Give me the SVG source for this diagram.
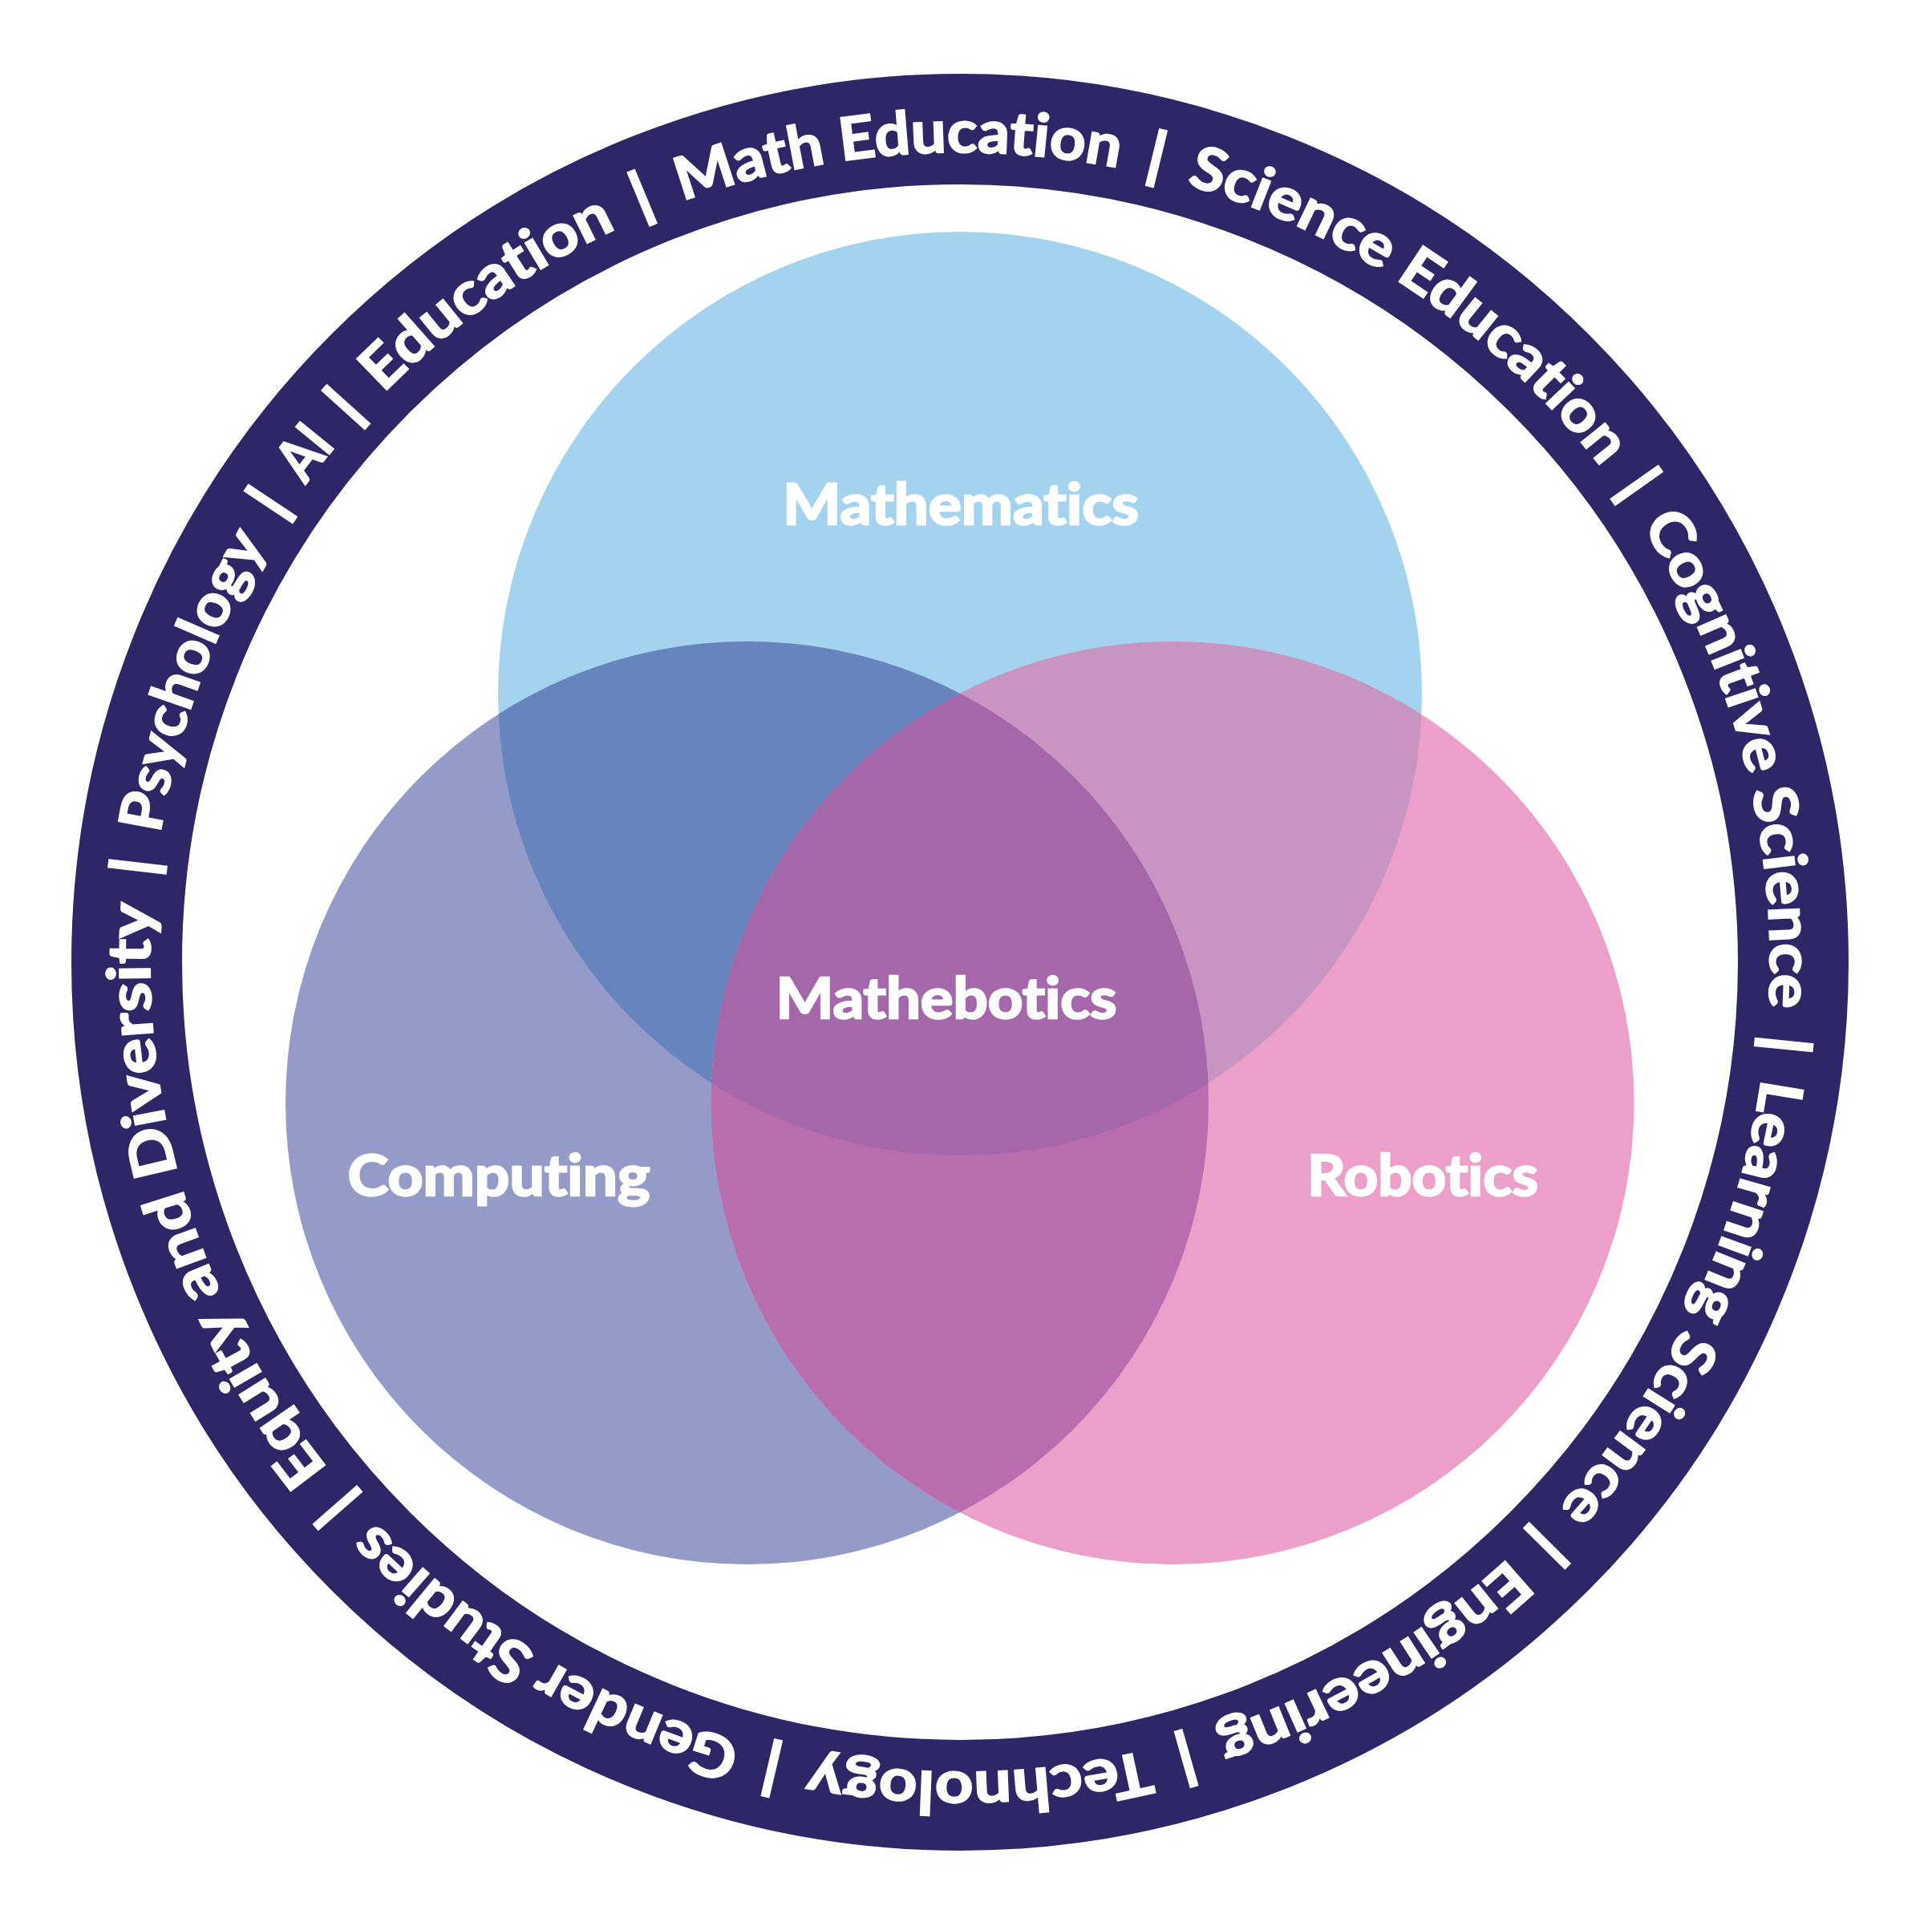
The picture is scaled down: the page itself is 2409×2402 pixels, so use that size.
<svg xmlns="http://www.w3.org/2000/svg" xmlns:xlink="http://www.w3.org/1999/xlink" width="2409" height="2402" viewBox="0 0 2409 2402">
<style>
.lbl{font-family:Lato,"Liberation Sans",sans-serif;font-weight:700;font-size:70px;fill:#ffffff;stroke:#ffffff;stroke-width:2.5;text-anchor:middle;font-variant-ligatures:none}
.rt{font-family:Lato,"Liberation Sans",sans-serif;font-weight:700;font-size:74px;fill:#ffffff;stroke:#ffffff;stroke-width:2;font-variant-ligatures:none}
.bar{font-family:Lato,"Liberation Sans",sans-serif;font-weight:700;font-size:74px;fill:#ffffff;stroke:#ffffff;stroke-width:4}
</style>
<defs>
<path id="ring" d="M2207 1200 A1010 1010 0 1 1 187 1200 A1010 1010 0 1 1 2207 1200 A1010 1010 0 1 1 187 1200 A1010 1010 0 1 1 2207 1200"/>
<clipPath id="cM"><circle cx="1197" cy="865" r="576"/></clipPath>
<clipPath id="cC"><circle cx="931.5" cy="1375.5" r="575.5"/></clipPath>
</defs>
<rect width="2409" height="2402" fill="#ffffff"/>
<g id="ring-band">
<circle cx="1197" cy="1200" r="1039" fill="none" stroke="#2d2767" stroke-width="138"/>
</g>
<g id="mathematics"><circle cx="1197" cy="865" r="576" fill="#a3d3ee"/></g>
<g id="computing"><circle cx="931.5" cy="1375.5" r="575.5" fill="#959bc8"/></g>
<g id="robotics"><circle cx="1462" cy="1375.5" r="575.5" fill="#eb9fc9"/></g>
<g id="overlaps">
<g clip-path="url(#cM)">
<circle cx="931.5" cy="1375.5" r="575.5" fill="#6685be"/>
<circle cx="1462" cy="1375.5" r="575.5" fill="#c895c3"/>
</g>
<g clip-path="url(#cC)">
<circle cx="1462" cy="1375.5" r="575.5" fill="#b86dae"/>
</g>
<g clip-path="url(#cM)"><g clip-path="url(#cC)">
<circle id="mathebotics" cx="1462" cy="1375.5" r="575.5" fill="#a467a9"/>
</g></g>
</g>
<g id="labels">
<text class="lbl" x="1198" y="654" textLength="444" lengthAdjust="spacingAndGlyphs">Mathematics</text>
<text class="lbl" x="1180" y="1270" textLength="425" lengthAdjust="spacingAndGlyphs">Mathebotics</text>
<text class="lbl" x="622" y="1491" textLength="377" lengthAdjust="spacingAndGlyphs">Computing</text>
<text class="lbl" x="1774" y="1491" textLength="288" lengthAdjust="spacingAndGlyphs">Robotics</text>
</g>
<g id="ring-text" text-anchor="middle">
<text class="bar"><textPath xlink:href="#ring" startOffset="4361.1">|</textPath></text>
<text class="bar"><textPath xlink:href="#ring" startOffset="5001.0">|</textPath></text>
<text class="bar"><textPath xlink:href="#ring" startOffset="5725.5">|</textPath></text>
<text class="bar"><textPath xlink:href="#ring" startOffset="6446.5">|</textPath></text>
<text class="bar"><textPath xlink:href="#ring" startOffset="7135.7">|</textPath></text>
<text class="bar"><textPath xlink:href="#ring" startOffset="7652.2">|</textPath></text>
<text class="bar"><textPath xlink:href="#ring" startOffset="8163.4">|</textPath></text>
<text class="bar"><textPath xlink:href="#ring" startOffset="8791.0">|</textPath></text>
<text class="bar"><textPath xlink:href="#ring" startOffset="3289.3">|</textPath></text>
<text class="bar"><textPath xlink:href="#ring" startOffset="3765.3">|</textPath></text>
<text class="bar"><textPath xlink:href="#ring" startOffset="3915.1">|</textPath></text>
<text class="rt"><textPath xlink:href="#ring" startOffset="4681.9" textLength="552" lengthAdjust="spacingAndGlyphs">Math Education</textPath></text>
<text class="rt"><textPath xlink:href="#ring" startOffset="5363.3" textLength="636" lengthAdjust="spacingAndGlyphs">Science Education</textPath></text>
<text class="rt"><textPath xlink:href="#ring" startOffset="6086.0" textLength="633" lengthAdjust="spacingAndGlyphs">Cognitive Science</textPath></text>
<text class="rt"><textPath xlink:href="#ring" startOffset="6791.1" textLength="601" lengthAdjust="spacingAndGlyphs">Learning Science</textPath></text>
<text class="rt"><textPath xlink:href="#ring" startOffset="7394.0" textLength="428" lengthAdjust="spacingAndGlyphs">Engineering</textPath></text>
<text class="rt"><textPath xlink:href="#ring" startOffset="7907.8" textLength="423" lengthAdjust="spacingAndGlyphs">Technology</textPath></text>
<text class="rt"><textPath xlink:href="#ring" startOffset="8477.2" textLength="539" lengthAdjust="spacingAndGlyphs">Gender Studies</textPath></text>
<text class="rt"><textPath xlink:href="#ring" startOffset="9213.2" textLength="756" lengthAdjust="spacingAndGlyphs">Equity and Diversity</textPath></text>
<text class="rt"><textPath xlink:href="#ring" startOffset="3527.3" textLength="388" lengthAdjust="spacingAndGlyphs">Psychology</textPath></text>
<text class="rt"><textPath xlink:href="#ring" startOffset="3840.2" textLength="62" lengthAdjust="spacingAndGlyphs">AI</textPath></text>
<text class="rt"><textPath xlink:href="#ring" startOffset="4138.1" textLength="358" lengthAdjust="spacingAndGlyphs">Education</textPath></text>
</g>
</svg>
